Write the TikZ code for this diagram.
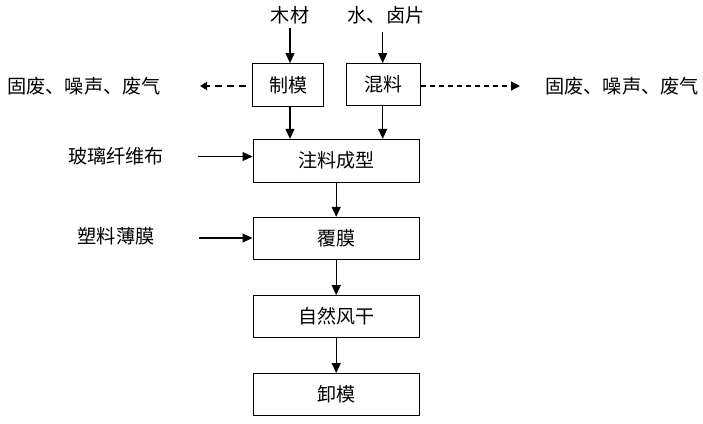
\documentclass[tikz,border=0pt]{standalone}
\usepackage{fontspec}
\newfontfamily\cjk{Noto Sans CJK SC}
\usetikzlibrary{arrows.meta}
\begin{document}
\begin{tikzpicture}[x=1pt,y=-1pt,
  txt/.style={font=\cjk\fontsize{19.2}{21}\selectfont, inner sep=0pt},
  box/.style={draw, line width=0.9pt, inner sep=0pt, font=\cjk\fontsize{19}{21}\selectfont},
  arr/.style={line width=1.1pt, -{Triangle[length=10pt,width=9pt]}},
  dashl/.style={line width=2.4pt, dash pattern=on 7pt off 5pt, -{Triangle[length=7pt,width=8pt]}},
  dashr/.style={line width=1.3pt, dash pattern=on 5pt off 4pt, -{Triangle[length=9pt,width=9pt]}}]
\useasboundingbox (0,0) rectangle (703,423);

\node[box, minimum width=70.5pt, minimum height=42.5pt] (zm) at (288,84.8) {制模};
\node[box, minimum width=74.5pt, minimum height=42pt] (hl) at (383.2,84.5) {混料};
\node[box, minimum width=166.5pt, minimum height=43pt] (zl) at (336.2,160.8) {注料成型};
\node[box, minimum width=166.5pt, minimum height=42pt] (fm) at (336.2,238.3) {覆膜};
\node[box, minimum width=166.5pt, minimum height=41.5pt] (zr) at (336.2,316.3) {自然风干};
\node[box, minimum width=166.5pt, minimum height=41.5pt] (xm) at (336.2,394.2) {卸模};

\node[txt] (mc) at (290,15) {木材};
\node[txt] (sl) at (386,15) {水、卤片};
\node[txt] (fl) at (84,86) {固废、噪声、废气};
\node[txt] (fr) at (622,86) {固废、噪声、废气};
\node[txt] (bl) at (116,156) {玻璃纤维布};
\node[txt] (sm) at (116,236) {塑料薄膜};

\coordinate (a1) at (290,28);
\coordinate (a2) at (382.7,32);
\coordinate (a3) at (198,156.5);
\coordinate (a4) at (199,238);
\coordinate (dl) at (200,86);
\coordinate (dr) at (520,86);

\draw[arr] (a1) -- (a1 |- zm.north);
\draw[arr] (a2) -- (a2 |- hl.north);
\draw[arr] (a1 |- zm.south) -- (a1 |- zl.north);
\draw[arr] (a2 |- hl.south) -- (a2 |- zl.north);
\draw[arr] (a3) -- (a3 -| zl.west);
\draw[arr] (a4) -- (a4 -| fm.west);
\draw[arr] (zl.south) -- (fm.north);
\draw[arr] (fm.south) -- (zr.north);
\draw[arr] (zr.south) -- (xm.north);
\draw[dashl] (246,86) -- (dl);
\draw[dashr] (dr -| hl.east) -- (dr);
\end{tikzpicture}
\end{document}
